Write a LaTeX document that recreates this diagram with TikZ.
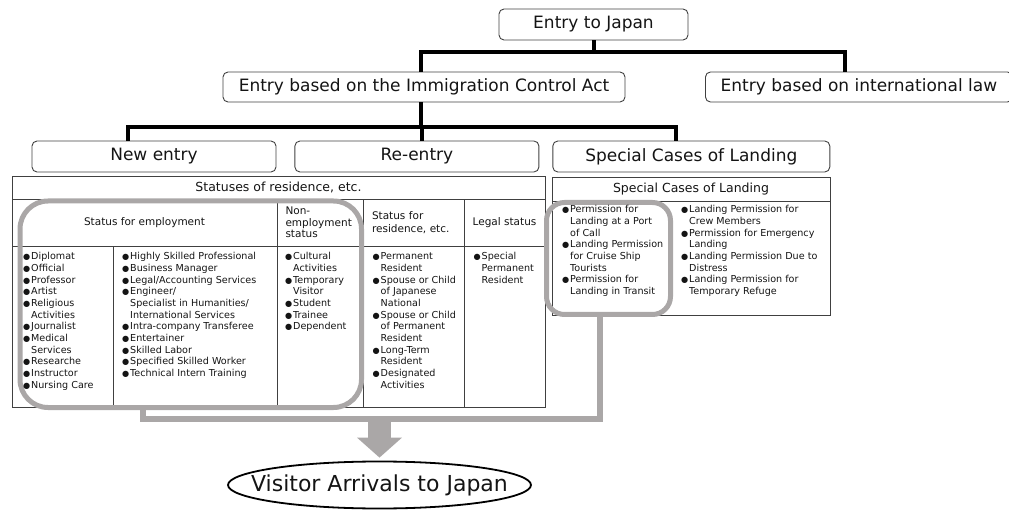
\documentclass[tikz,border=0pt]{standalone}
\usepackage{fontspec}
\setmainfont{DejaVu Sans}
\usepackage{graphicx}
\usetikzlibrary{arrows.meta,positioning,shapes.geometric}
\definecolor{gline}{RGB}{170,167,167}
\definecolor{tline}{RGB}{64,64,64}
\definecolor{ink}{RGB}{20,20,20}
\newcommand{\bu}{\strut\makebox[8pt][l]{\scalebox{0.85}{●}}}
\newcommand{\ind}{\hspace*{8pt}}

\begin{document}
\begin{tikzpicture}[x=1pt, y=-1pt,
  every node/.style={text=ink},
  topbox/.style={rectangle, rounded corners=5pt, draw=tline, line width=0.9pt, minimum height=30pt, inner sep=0pt, font=\fontsize{17}{20}\selectfont},
  link/.style={line width=4pt},
  cell/.style={rectangle, draw=tline, line width=0.8pt, inner sep=0pt, outer sep=0pt, anchor=north west},
  hdr/.style={font=\fontsize{12.5}{15}\selectfont},
  colhd/.style={font=\fontsize{10.5}{11.6}\selectfont},
  body/.style={anchor=north west, inner sep=0pt, align=left, font=\fontsize{9.6}{11.67}\selectfont},
  hilite/.style={rectangle, draw=gline, line width=5pt, inner sep=0pt, outer sep=0pt, anchor=north west},
  merge/.style={draw=gline, line width=6pt},
  bigarrow/.style={draw=gline, line width=23pt, shorten >=3pt, -{Triangle[width=45pt, length=20pt, line width=0pt]}}]

\useasboundingbox (0,0) rectangle (1009,510);

% hierarchy of entries
\node[topbox, minimum width=189pt, minimum height=31pt] (japan) at (593.5,24.5) {Entry to Japan};
\node[topbox, minimum width=402pt] (ica) at (424,87) {Entry based on the Immigration Control Act};
\node[topbox, minimum width=307pt, anchor=west] (intl) at (705,87) {Entry based on international law};
\node[topbox, minimum width=244pt, minimum height=31pt] (newe) at (154,156.5) {New entry};
\node[topbox, minimum width=244pt, minimum height=31pt, right=18pt of newe] (reen) {Re-entry};
\node[topbox, minimum width=277pt, minimum height=31pt, right=13pt of reen] (scl) {Special Cases of Landing};

\draw[link] (japan.south) -- ++(0,11.5) -| ([xshift=-3pt]ica.north);
\draw[link] (japan.south) -- ++(0,11.5) -| ([xshift=-13.5pt]intl.north);
\draw[link] ([xshift=-3pt]ica.south) -- ++(0,25) -| ([xshift=-26pt]newe.north);
\draw[link] ([xshift=-3pt]ica.south) -- ++(0,25) -| ([xshift=5pt]reen.north);
\draw[link] ([xshift=-3pt]ica.south) -- ++(0,25) -| ([xshift=-15.5pt]scl.north);

% statuses of residence
\node[cell, minimum width=533pt, minimum height=23pt, hdr] (sres) at (12,176) {Statuses of residence, etc.};
\node[cell, minimum width=265pt, minimum height=47pt, colhd] (hemp) at (12,199) {Status for employment};
\node[cell, minimum width=86pt, minimum height=47pt, colhd, align=left, text width=69pt, inner xsep=8.5pt] (hnon) at (277,199) {Non-\\employment\\status};
\node[cell, minimum width=101pt, minimum height=47pt, colhd, align=left, text width=83pt, inner xsep=9pt, font=\fontsize{10.5}{13.4}\selectfont] (hres) at (363,199) {Status for\\residence, etc.};
\node[cell, minimum width=81pt, minimum height=47pt, colhd] (hleg) at (464,199) {Legal status};
\node[cell, minimum width=101pt, minimum height=161pt] (bc1) at (12,246) {};
\node[cell, minimum width=164pt, minimum height=161pt] (bc2) at (113,246) {};
\node[cell, minimum width=86pt, minimum height=161pt] (bc3) at (277,246) {};
\node[cell, minimum width=101pt, minimum height=161pt] (bc4) at (363,246) {};
\node[cell, minimum width=81pt, minimum height=161pt] (bc5) at (464,246) {};

% special cases of landing
\node[cell, minimum width=278pt, minimum height=24pt, hdr] (shdr) at (552,177) {Special Cases of Landing};
\node[cell, minimum width=278pt, minimum height=114pt] (sbody) at (552,201) {};

% grey frames
\node[hilite, rounded corners=28pt, minimum width=341.5pt, minimum height=206.5pt] (grpL) at (20,201) {};
\node[hilite, rounded corners=18pt, minimum width=124pt, minimum height=112pt] (grpR) at (546.5,202.5) {};
\draw[merge] ([xshift=-8.5pt]grpR.south) -- ++(0,104.5) -| ([xshift=-47.75pt]grpL.south);

% lists
\node[body] (t1) at ([shift={(11,5.3)}]bc1.north west) {\bu Diplomat\\\bu Official\\\bu Professor\\\bu Artist\\\bu Religious\\\ind Activities\\\bu Journalist\\\bu Medical\\\ind Services\\\bu Researche\\\bu Instructor\\\bu Nursing Care};
\node[body] (t2) at ([shift={(9,5.3)}]bc2.north west) {\bu Highly Skilled Professional\\\bu Business Manager\\\bu Legal/Accounting Services\\\bu Engineer/\\\ind Specialist in Humanities/\\\ind International Services\\\bu Intra-company Transferee\\\bu Entertainer\\\bu Skilled Labor\\\bu Specified Skilled Worker\\\bu Technical Intern Training};
\node[body] (t3) at ([shift={(8,5.3)}]bc3.north west) {\bu Cultural\\\ind Activities\\\bu Temporary\\\ind Visitor\\\bu Student\\\bu Trainee\\\bu Dependent};
\node[body] (t4) at ([shift={(9.5,5.3)}]bc4.north west) {\bu Permanent\\\ind Resident\\\bu Spouse or Child\\\ind of Japanese\\\ind National\\\bu Spouse or Child\\\ind of Permanent\\\ind Resident\\\bu Long-Term\\\ind Resident\\\bu Designated\\\ind Activities};
\node[body] (t5) at ([shift={(9.5,5.3)}]bc5.north west) {\bu Special\\\ind Permanent\\\ind Resident};
\node[body] (r1) at ([shift={(10,3.3)}]sbody.north west) {\bu Permission for\\\ind Landing at a Port\\\ind of Call\\\bu Landing Permission\\\ind for Cruise Ship\\\ind Tourists\\\bu Permission for\\\ind Landing in Transit};
\node[body] (r2) at ([shift={(129,3.3)}]sbody.north west) {\bu Landing Permission for\\\ind Crew Members\\\bu Permission for Emergency\\\ind Landing\\\bu Landing Permission Due to\\\ind Distress\\\bu Landing Permission for\\\ind Temporary Refuge};

% visitor arrivals
\node[ellipse, draw=black, line width=1.8pt, minimum width=303pt, minimum height=47pt, inner sep=0pt, font=\fontsize{22}{26}\selectfont] (visit) at (379.5,485) {\makebox[0pt]{Visitor Arrivals to Japan}};
\coordinate (mrg) at (379.5,419);
\draw[bigarrow] (mrg) -- (visit.north);
\end{tikzpicture}
\end{document}
